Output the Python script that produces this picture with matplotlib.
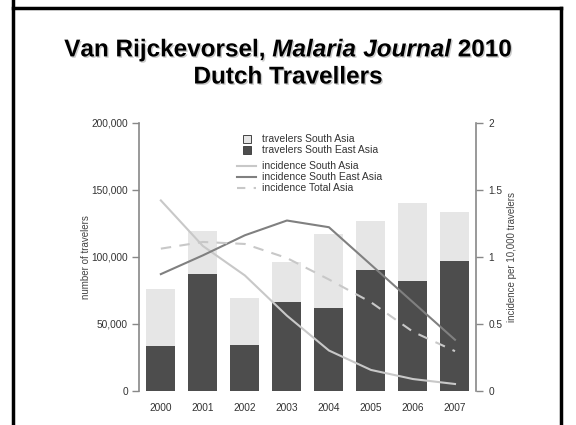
import matplotlib

matplotlib.use("Agg")
import matplotlib.pyplot as plt
import matplotlib.patheffects as pe
from matplotlib.lines import Line2D
import numpy as np

plt.rcParams["font.family"] = ["Liberation Sans", "DejaVu Sans"]
plt.rcParams["mathtext.fontset"] = "custom"
plt.rcParams["mathtext.it"] = "Liberation Sans:bold:italic"
plt.rcParams["mathtext.rm"] = "Liberation Sans:bold"

years = ["2000", "2001", "2002", "2003", "2004", "2005", "2006", "2007"]
travelers_se_asia = [33000, 87000, 34000, 66000, 62000, 90000, 82000, 97000]
travelers_s_asia = [43000, 32000, 35000, 30000, 55000, 37000, 58000, 36000]
incidence_s_asia = [1.42, 1.08, 0.86, 0.56, 0.30, 0.155, 0.087, 0.05]
incidence_se_asia = [0.87, 1.01, 1.16, 1.27, 1.22, 0.94, 0.66, 0.38]
incidence_total = [1.06, 1.11, 1.095, 0.99, 0.83, 0.66, 0.44, 0.295]

W, H = 576, 425
fig = plt.figure(figsize=(W / 100, H / 100), dpi=100)

# slide frame (open at the bottom)
for xs, ys in [((13, 13), (0, 425)), ((13, 561), (8, 8)), ((561, 561), (8, 425))]:
    fig.add_artist(Line2D([x / W for x in xs], [1 - y / H for y in ys],
                          transform=fig.transFigure, color="black", lw=2.5))

shadow = [pe.withSimplePatchShadow(offset=(1, -1), shadow_rgbFace="#999999", alpha=0.5)]
fig.text(0.5, 1 - 50 / H, "Van Rijckevorsel, $\\it{Malaria\\ Journal}$ 2010",
         ha="center", va="center", fontsize=17.5, fontweight="bold", path_effects=shadow)
fig.text(0.5, 1 - 77 / H, "Dutch Travellers", ha="center", va="center",
         fontsize=17.5, fontweight="bold", path_effects=shadow)

ax = fig.add_axes([139 / W, 1 - 390.7 / H, (476 - 139) / W, 268 / H])
x = np.arange(len(years))
dark, light = "#4d4d4d", "#e6e6e6"
ax.bar(x, travelers_se_asia, width=0.69, color=dark, zorder=2)
ax.bar(x, travelers_s_asia, width=0.69, bottom=travelers_se_asia, color=light, zorder=2)
ax.set_xlim(-0.52, 7.5)
ax.set_ylim(0, 200000)
ax.set_yticks([0, 50000, 100000, 150000, 200000])
ax.set_yticklabels(["0", "50,000", "100,000", "150,000", "200,000"])
ax.set_xticks(x)
ax.set_xticklabels(years)
ax.tick_params(axis="x", length=0, pad=9, labelsize=7.3, labelcolor="#333333")
ax.tick_params(axis="y", length=5, width=1, color="#888888", pad=3,
               labelsize=7.3, labelcolor="#333333")
for s in ["top", "right", "bottom"]:
    ax.spines[s].set_visible(False)
ax.spines["left"].set_color("#888888")
ax.spines["left"].set_linewidth(1.2)
ax.spines["left"].set_bounds(0, 200000)
ax.set_ylabel("number of travelers", fontsize=7, color="#444444", labelpad=0)

ax2 = ax.twinx()
ax2.plot(x, incidence_s_asia, color="#c8c8c8", lw=1.5)
ax2.plot(x, incidence_se_asia, color="#808080", lw=1.5)
ax2.plot(x, incidence_total, color="#c8c8c8", lw=1.5, dashes=(5, 4))
ax2.set_ylim(0, 2)
ax2.set_yticks([0, 0.5, 1, 1.5, 2])
ax2.set_yticklabels(["0", "0.5", "1", "1.5", "2"])
ax2.tick_params(axis="y", length=5, width=1, color="#888888", pad=4,
                labelsize=7.3, labelcolor="#333333")
for s in ["top", "left", "bottom"]:
    ax2.spines[s].set_visible(False)
ax2.spines["right"].set_color("#888888")
ax2.spines["right"].set_linewidth(1.2)
ax2.spines["right"].set_bounds(0, 2)
ax2.set_ylabel("incidence per 10,000 travelers", fontsize=7, color="#444444", labelpad=3)

bar_handles = [
    Line2D([], [], ls="none", marker="s", markersize=5.5, markerfacecolor=light,
           markeredgecolor="#444444", markeredgewidth=0.7),
    Line2D([], [], ls="none", marker="s", markersize=5.5, markerfacecolor=dark,
           markeredgecolor="#444444", markeredgewidth=0.7),
]
leg_kw = dict(loc="upper left", bbox_transform=fig.transFigure, frameon=False,
              fontsize=7.5, borderpad=0, handlelength=1.8, handletextpad=0.55,
              labelspacing=0.1, labelcolor="#333333")
leg1 = ax2.legend(bar_handles, ["travelers South Asia", "travelers South East Asia"],
                  bbox_to_anchor=(232 / W, 1 - 129 / H), **leg_kw)
ax2.add_artist(leg1)
line_handles = [
    Line2D([], [], color="#c8c8c8", lw=1.5),
    Line2D([], [], color="#808080", lw=1.5),
    Line2D([], [], color="#c8c8c8", lw=1.5, dashes=(4, 4)),
]
ax2.legend(line_handles, ["incidence South Asia", "incidence South East Asia",
                          "incidence Total Asia"],
           bbox_to_anchor=(232 / W, 1 - 156 / H), **leg_kw)

fig.savefig("out.png", dpi=100)
